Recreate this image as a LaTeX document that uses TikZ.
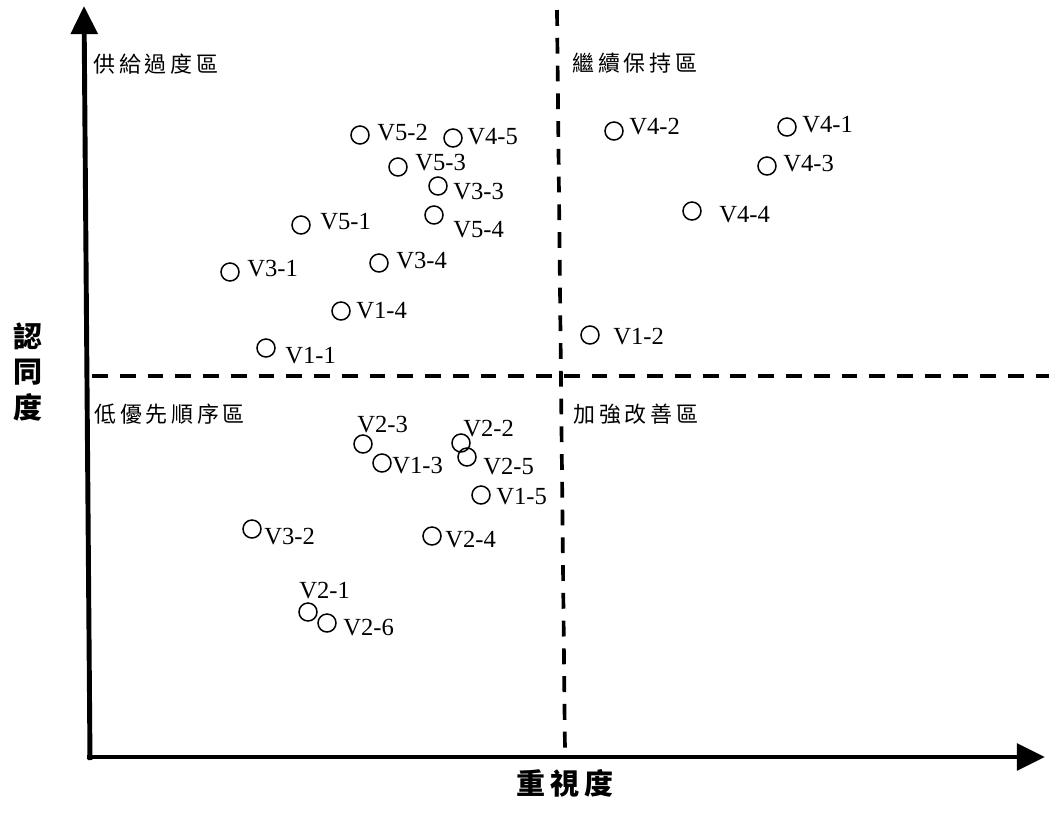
\documentclass[tikz,border=0pt]{standalone}
\usepackage{fontspec}
\setmainfont{Liberation Serif}
\newfontfamily\cjk{Noto Sans CJK TC}
\newfontfamily\cjkzone[LetterSpace=17]{Noto Sans CJK TC}
\newfontfamily\cjkaxis[LetterSpace=17]{Noto Sans CJK TC}
\usepackage{tikz}
\usetikzlibrary{arrows.meta}

\tikzset{
  axis/.style={line width=2.8pt, -{Triangle[length=16pt,width=15pt]}},
  quad/.style={line width=2.1pt, dash pattern=on 9pt off 6.8pt},
  pt/.style={circle, draw, line width=0.85pt, inner sep=0pt, minimum size=0.36cm},
  lab/.style={anchor=west, inner sep=0pt, font=\fontsize{14}{14}\selectfont},
  zone/.style={anchor=west, inner sep=0pt, font=\cjkzone\fontsize{12.5}{12.5}\selectfont},
  axlab/.style={inner sep=0pt, font=\cjkaxis\bfseries\fontsize{16.5}{20.4}\selectfont}
}

\begin{document}
\begin{tikzpicture}[x=0.02cm, y=-0.02cm]
\useasboundingbox (0,0) rectangle (1049,822);

\coordinate (O) at (90,760);
\coordinate (ytip) at (84,6);
\coordinate (xtip) at (1045,757);
\coordinate (hl) at (92,376);
\coordinate (hr) at (1049,376);
\coordinate (vt) at (557,10);
\coordinate (vb) at (565,752);

\draw[quad] (hl) -- (hr);
\draw[quad] (vt) -- (vb);
\draw[axis] (O) -- (ytip);
\draw[axis] (87,757) -- (xtip);

\node[axlab, align=center] (ylab) at (28,372) {認\\同\\度};
\node[axlab, anchor=west] (xlab) at (516,783) {重視度};

\node[zone] (z1) at (93,64) {供給過度區};
\node[zone] (z2) at (572,63) {繼續保持區};
\node[zone] (z3) at (94,414) {低優先順序區};
\node[zone] (z4) at (573,414) {加強改善區};

\node[pt] (p52) at (360,135) {};
\node[lab] (l52) at (377,133) {V5-2};
\node[pt] (p45) at (453,138) {};
\node[lab] (l45) at (467,137) {V4-5};
\node[pt] (p53) at (398,167) {};
\node[lab] (l53) at (415,163) {V5-3};
\node[pt] (p33) at (438,186) {};
\node[lab] (l33) at (453,192) {V3-3};
\node[pt] (p51) at (301,225) {};
\node[lab] (l51) at (320,222) {V5-1};
\node[pt] (p54) at (434,215) {};
\node[lab] (l54) at (453,230) {V5-4};
\node[pt] (p31) at (230,272) {};
\node[lab] (l31) at (247,269) {V3-1};
\node[pt] (p34) at (379,263) {};
\node[lab] (l34) at (396,261) {V3-4};
\node[pt] (p14) at (341,311) {};
\node[lab] (l14) at (356,311) {V1-4};
\node[pt] (p11) at (266,348) {};
\node[lab] (l11) at (285,356) {V1-1};

\node[pt] (p42) at (614,131) {};
\node[lab] (l42) at (629,127) {V4-2};
\node[pt] (p41) at (787,127) {};
\node[lab] (l41) at (802,125) {V4-1};
\node[pt] (p43) at (767,166) {};
\node[lab] (l43) at (783,164) {V4-3};
\node[pt] (p44) at (692,211) {};
\node[lab] (l44) at (719,215) {V4-4};
\node[pt] (p12) at (590,335) {};
\node[lab] (l12) at (613,337) {V1-2};

\node[pt] (p23) at (363,444) {};
\node[lab] (l23) at (357,425) {V2-3};
\node[pt] (p13) at (382,463) {};
\node[lab] (l13) at (392,466) {V1-3};
\node[pt] (p22) at (461,443) {};
\node[lab] (l22) at (463,429) {V2-2};
\node[pt] (p25) at (467,457) {};
\node[lab] (l25) at (483,467) {V2-5};
\node[pt] (p15) at (481,495) {};
\node[lab] (l15) at (496,497) {V1-5};
\node[pt] (p32) at (252,529) {};
\node[lab] (l32) at (264,537) {V3-2};
\node[pt] (p24) at (432,536) {};
\node[lab] (l24) at (445,540) {V2-4};
\node[pt] (p21) at (308,612) {};
\node[lab] (l21) at (299,591) {V2-1};
\node[pt] (p26) at (327,623) {};
\node[lab] (l26) at (343,628) {V2-6};
\end{tikzpicture}
\end{document}
